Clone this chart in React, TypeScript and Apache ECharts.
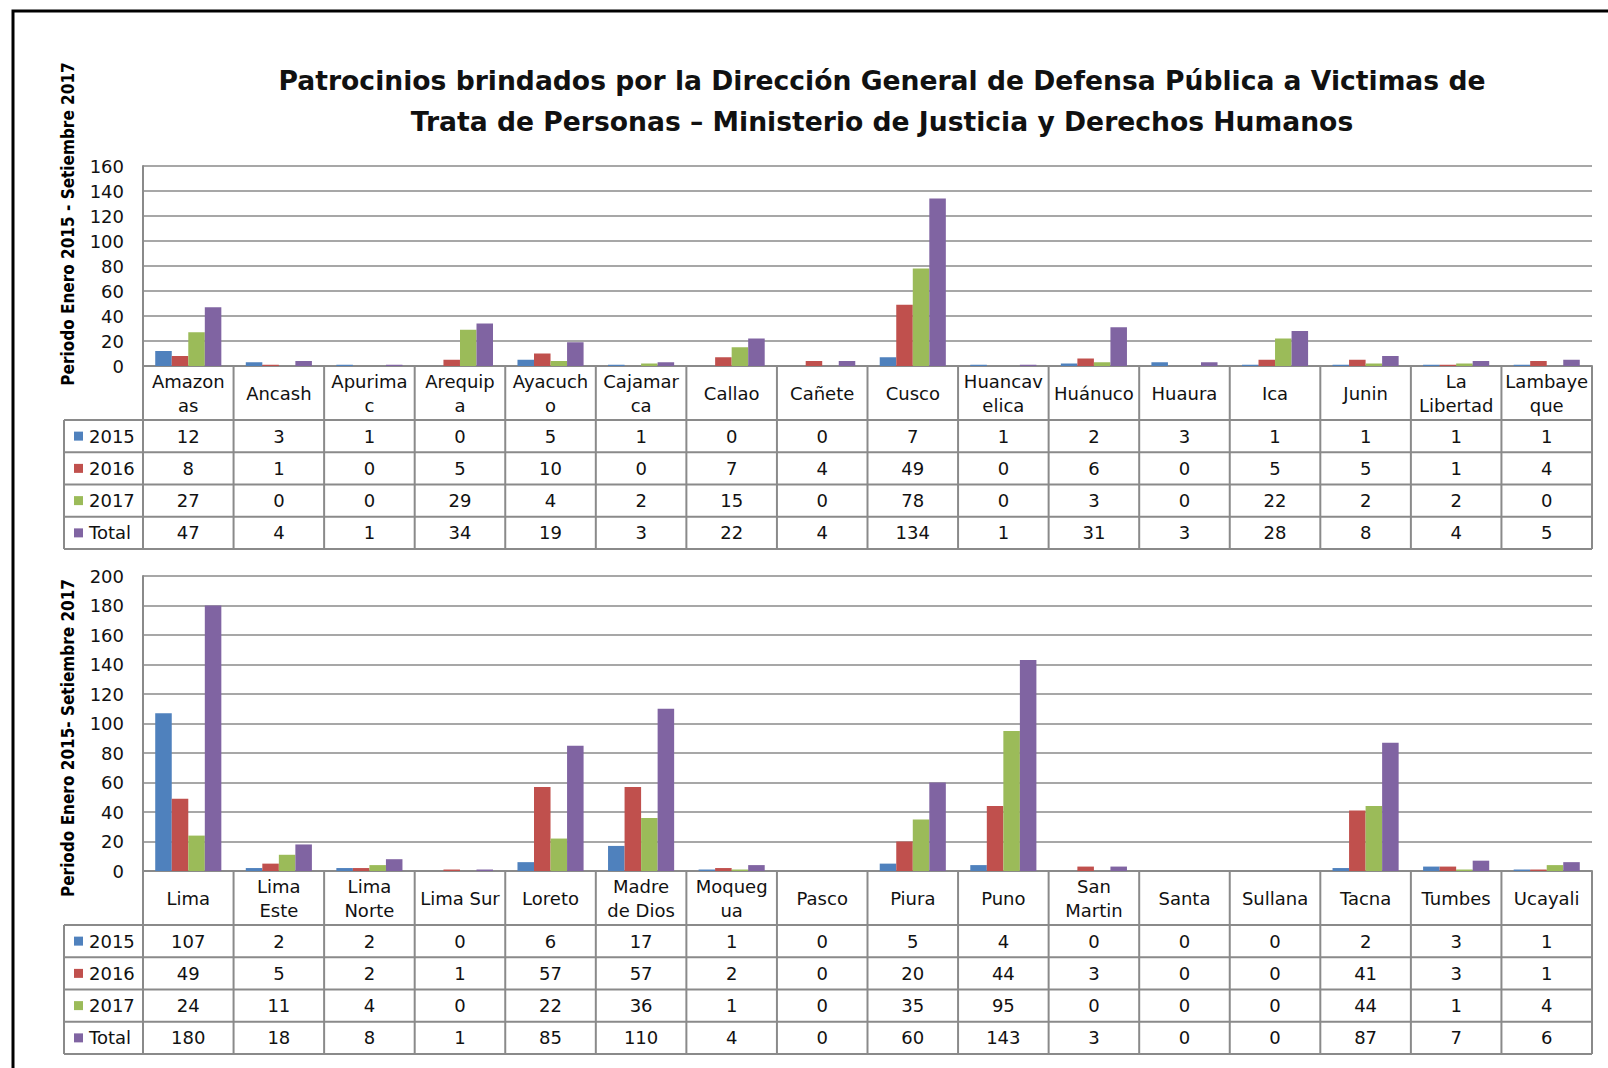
import React, { useEffect, useRef } from "react";
import * as echarts from "echarts";

const titleLines = [
  "Patrocinios brindados por la Dirección General de Defensa Pública a Victimas de",
  "Trata de Personas – Ministerio de Justicia y Derechos Humanos",
];
const seriesNames = ["2015", "2016", "2017", "Total"];
const seriesColors = ["#4F81BD", "#C0504D", "#9BBB59", "#8064A2"];

const topCategories = [
  "Amazon\nas", "Ancash", "Apurima\nc", "Arequip\na", "Ayacuch\no", "Cajamar\nca", "Callao", "Cañete",
  "Cusco", "Huancav\nelica", "Huánuco", "Huaura", "Ica", "Junin", "La\nLibertad", "Lambaye\nque",
];
const top2015 = [12, 3, 1, 0, 5, 1, 0, 0, 7, 1, 2, 3, 1, 1, 1, 1];
const top2016 = [8, 1, 0, 5, 10, 0, 7, 4, 49, 0, 6, 0, 5, 5, 1, 4];
const top2017 = [27, 0, 0, 29, 4, 2, 15, 0, 78, 0, 3, 0, 22, 2, 2, 0];
const topTotal = [47, 4, 1, 34, 19, 3, 22, 4, 134, 1, 31, 3, 28, 8, 4, 5];
const topYTicks = { min: 0, max: 160, interval: 20 };
const topAxisTitle = "Periodo Enero 2015 - Setiembre 2017";

const botCategories = [
  "Lima", "Lima\nEste", "Lima\nNorte", "Lima Sur", "Loreto", "Madre\nde Dios", "Moqueg\nua", "Pasco",
  "Piura", "Puno", "San\nMartin", "Santa", "Sullana", "Tacna", "Tumbes", "Ucayali",
];
const bot2015 = [107, 2, 2, 0, 6, 17, 1, 0, 5, 4, 0, 0, 0, 2, 3, 1];
const bot2016 = [49, 5, 2, 1, 57, 57, 2, 0, 20, 44, 3, 0, 0, 41, 3, 1];
const bot2017 = [24, 11, 4, 0, 22, 36, 1, 0, 35, 95, 0, 0, 0, 44, 1, 4];
const botTotal = [180, 18, 8, 1, 85, 110, 4, 0, 60, 143, 3, 0, 0, 87, 7, 6];
const botYTicks = { min: 0, max: 200, interval: 20 };
const botAxisTitle = "Periodo Enero 2015- Setiembre 2017";

const FONT = "'DejaVu Sans', Verdana, sans-serif";
const NARROW = "'Liberation Sans Narrow', 'DejaVu Sans Condensed', 'Liberation Sans', sans-serif";
const LINE = "#8a8a8a";

const PLOT_L = 143;
const PLOT_R = 1592;
const LEG_L = 64;
const NCOL = 16;
const COLW = (PLOT_R - PLOT_L) / NCOL;

const panels = [
  { top: 166, bottom: 366, header: 420, rowH: 32.25, cats: topCategories, data: [top2015, top2016, top2017, topTotal], y: topYTicks, title: topAxisTitle, titleY: 224 },
  { top: 576, bottom: 871, header: 925, rowH: 32.25, cats: botCategories, data: [bot2015, bot2016, bot2017, botTotal], y: botYTicks, title: botAxisTitle, titleY: 738 },
];

function tableGraphics(p: typeof panels[number]) {
  const els: any[] = [];
  const tableBottom = p.header + p.rowH * 4;
  const lineStyle = { stroke: LINE, lineWidth: 2 };
  for (let i = 0; i <= NCOL; i++) {
    const x = PLOT_L + i * COLW;
    els.push({ type: "line", shape: { x1: x, y1: p.bottom, x2: x, y2: tableBottom }, style: lineStyle, z: 10 });
  }
  els.push({ type: "line", shape: { x1: LEG_L, y1: p.header, x2: LEG_L, y2: tableBottom }, style: lineStyle, z: 10 });
  for (let r = 0; r <= 4; r++) {
    const y = p.header + r * p.rowH;
    els.push({ type: "line", shape: { x1: LEG_L, y1: y, x2: PLOT_R, y2: y }, style: lineStyle, z: 10 });
  }
  for (let r = 0; r < 4; r++) {
    const cy = p.header + r * p.rowH + p.rowH / 2;
    els.push({ type: "rect", shape: { x: 74, y: cy - 4.5, width: 9, height: 9 }, style: { fill: seriesColors[r] }, z: 10 });
    els.push({
      type: "text", x: 89, y: cy, z: 10,
      style: { text: seriesNames[r], fontFamily: FONT, fontSize: 18, fill: "#111", align: "left", verticalAlign: "middle" },
    });
    p.data[r].forEach((v, c) => {
      els.push({
        type: "text", x: PLOT_L + c * COLW + COLW / 2, y: cy, z: 10,
        style: { text: String(v), fontFamily: FONT, fontSize: 18, fill: "#111", align: "center", verticalAlign: "middle" },
      });
    });
  }
  els.push({
    type: "text", x: 68, y: p.titleY, rotation: Math.PI / 2, z: 10,
    style: { text: p.title, fontFamily: NARROW, fontWeight: "bold", fontSize: 17, fill: "#000", align: "center", verticalAlign: "middle" },
  });
  return els;
}

export default function App() {
  const ref = useRef<HTMLDivElement>(null);
  useEffect(() => {
    if (!ref.current) return;
    const chart = echarts.init(ref.current, null, { renderer: "svg" });
    const grids = panels.map((p) => ({ left: PLOT_L, right: 1608 - PLOT_R, top: p.top, height: p.bottom - p.top, containLabel: false }));
    const xAxes = panels.map((p, i) => ({
      type: "category", gridIndex: i, data: p.cats,
      axisLine: { show: true, lineStyle: { color: LINE, width: 2 } },
      axisTick: { show: false },
      axisLabel: { interval: 0, fontFamily: FONT, fontSize: 18, lineHeight: 24, color: "#111", verticalAlign: "middle", margin: 27 },
    }));
    const yAxes = panels.map((p, i) => ({
      type: "value", gridIndex: i, min: p.y.min, max: p.y.max, interval: p.y.interval,
      axisLine: { show: true, lineStyle: { color: LINE, width: 2 } },
      axisTick: { show: false },
      axisLabel: { fontFamily: FONT, fontSize: 18, color: "#111", margin: 19 },
      splitLine: { show: true, lineStyle: { color: LINE, width: 1.5 } },
    }));
    const series: any[] = [];
    panels.forEach((p, i) => {
      p.data.forEach((d, s) => {
        series.push({
          type: "bar", name: seriesNames[s], xAxisIndex: i, yAxisIndex: i, data: d,
          itemStyle: { color: seriesColors[s] }, barGap: "0%", barCategoryGap: "27%",
        });
      });
    });
    const graphic: any[] = [
      { type: "rect", shape: { x: 13, y: 11, width: 1700, height: 1200 }, style: { fill: "none", stroke: "#000", lineWidth: 3 }, z: 20 },
      {
        type: "text", x: 882, y: 80, z: 10,
        style: { text: titleLines[0], fontFamily: FONT, fontWeight: "bold", fontSize: 26.6, fill: "#111", align: "center", verticalAlign: "middle" },
      },
      {
        type: "text", x: 882, y: 121, z: 10,
        style: { text: titleLines[1], fontFamily: FONT, fontWeight: "bold", fontSize: 26.6, fill: "#111", align: "center", verticalAlign: "middle" },
      },
      ...panels.flatMap((p) => tableGraphics(p)),
    ];
    chart.setOption({
      animation: false,
      backgroundColor: "#fff",
      grid: grids,
      xAxis: xAxes,
      yAxis: yAxes,
      series,
      graphic,
    });
    return () => chart.dispose();
  }, []);
  return <div ref={ref} style={{ position: "absolute", left: 0, top: 0, width: 1608, height: 1068 }} />;
}
